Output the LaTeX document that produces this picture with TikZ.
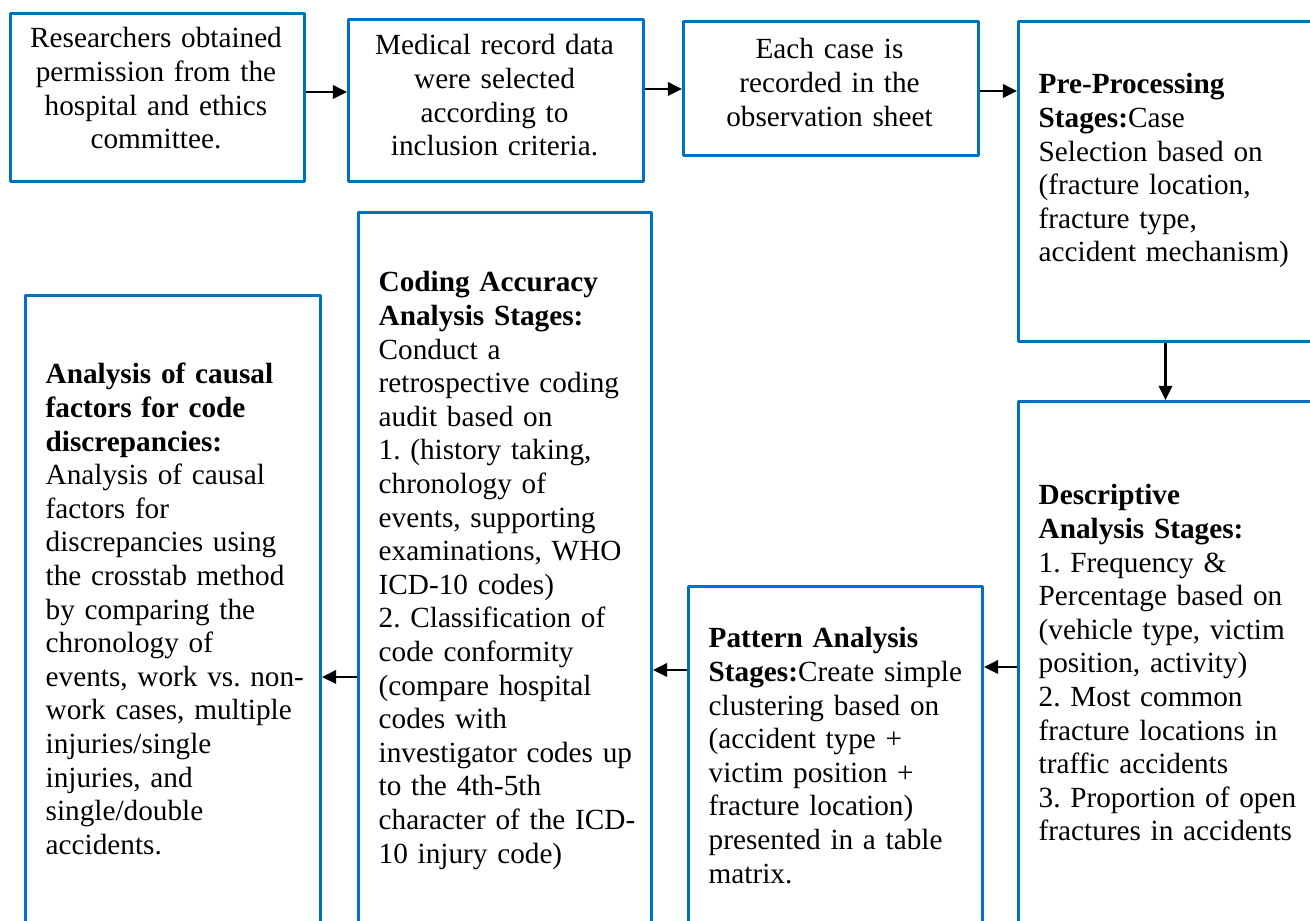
\documentclass[tikz,border=0pt]{standalone}
\usepackage{fontspec}
\setmainfont{Liberation Serif}
\usetikzlibrary{arrows.meta}
\definecolor{boxblue}{RGB}{0,112,192}
\frenchspacing
\begin{document}
\begin{tikzpicture}[line join=round, >={Triangle[length=4pt,width=3.8pt]},
	stagebox/.style={draw=boxblue, line width=0.85pt, anchor=north west, inner sep=0pt, minimum width=2.94cm},
	stagetext/.style={inner sep=0pt, anchor=base west, align=left, text width=2.75cm, font=\fontsize{8.32}{9.56}\selectfont},
	toptext/.style={inner sep=0pt, anchor=base, align=center, text width=2.9cm, font=\fontsize{8.32}{9.56}\selectfont},
	flow/.style={->, line width=0.7pt}]
	\useasboundingbox (0,0) rectangle (13.1,9.21);
	\clip (0,0) rectangle (13.1,9.21);
	% top row
	\node[stagebox, minimum height=1.68cm] (res) at (0.09,9.09) {};
	\node[toptext] (res-t) at (1.56,8.73) {Researchers obtained\\ permission from the\\ hospital and ethics\\ committee.};
	\node[stagebox, minimum width=2.95cm, minimum height=1.62cm] (med) at (3.47,9.03) {};
	\node[toptext] (med-t) at (4.945,8.66) {Medical record data\\ were selected\\ according to\\ inclusion criteria.};
	\node[stagebox, minimum width=2.95cm, minimum height=1.34cm] (obs) at (6.82,9.01) {};
	\node[toptext] (obs-t) at (8.295,8.62) {Each case is\\ recorded in the\\ observation sheet};
	\node[stagebox, minimum height=3.20cm] (pre) at (10.17,9.01) {};
	\node[stagetext] (pre-t) at (10.38,8.27) {\textbf{Pre-Processing}\\ \textbf{Stages:}Case\\ Selection based on\\ (fracture location,\\ fracture type,\\ accident mechanism)};
	% bottom row
	\node[stagebox, minimum height=5.5cm] (desc) at (10.17,5.21) {};
	\node[stagetext] (desc-t) at (10.38,4.16) {\textbf{Descriptive}\\ \textbf{Analysis Stages:}\\ 1. Frequency \&\\ Percentage based on\\ (vehicle type, victim\\ position, activity)\\ 2. Most common\\ fracture locations in\\ traffic accidents\\ 3. Proportion of open\\ fractures in accidents};
	\node[stagebox, minimum height=3.6cm] (pat) at (6.87,3.36) {};
	\node[stagetext] (pat-t) at (7.08,2.73) {\textbf{Pattern Analysis}\\ \textbf{Stages:}Create simple\\ clustering based on\\ (accident type +\\ victim position +\\ fracture location)\\ presented in a table\\ matrix.};
	\node[stagebox, minimum width=2.93cm, minimum height=7.5cm] (col) at (3.57,7.10) {};
	\node[stagetext] (col-t) at (3.78,6.29) {\textbf{Coding Accuracy}\\ \textbf{Analysis Stages:}\\ Conduct a\\ retrospective coding\\ audit based on\\ 1. (history taking,\\ chronology of\\ events, supporting\\ examinations, WHO\\ ICD-10 codes)\\ 2. Classification of\\ code conformity\\ (compare hospital\\ codes with\\ investigator codes up\\ to the 4th-5th\\ character of the ICD-\\ 10 injury code)};
	\node[stagebox, minimum width=2.95cm, minimum height=6.5cm] (cause) at (0.24,6.27) {};
	\node[stagetext] (cause-t) at (0.45,5.37) {\textbf{Analysis of causal}\\ \textbf{factors for code}\\ \textbf{discrepancies:}\\ Analysis of causal\\ factors for\\ discrepancies using\\ the crosstab method\\ by comparing the\\ chronology of\\ events, work vs. non-\\ work cases, multiple\\ injuries/single\\ injuries, and\\ single/double\\ accidents.};
	% connectors
	\draw[flow] (res.east |- 0,8.29) -- (med.west |- 0,8.29);
	\draw[flow] (med.east |- 0,8.32) -- (obs.west |- 0,8.32);
	\draw[flow] (obs.east |- 0,8.30) -- (pre.west |- 0,8.30);
	\draw[flow] (pre.south) -- (desc.north);
	\draw[flow] (desc.west |- 0,2.54) -- (pat.east |- 0,2.54);
	\draw[flow] (pat.west |- 0,2.51) -- (col.east |- 0,2.51);
	\draw[flow] (col.west |- 0,2.44) -- (cause.east |- 0,2.44);
\end{tikzpicture}
\end{document}
